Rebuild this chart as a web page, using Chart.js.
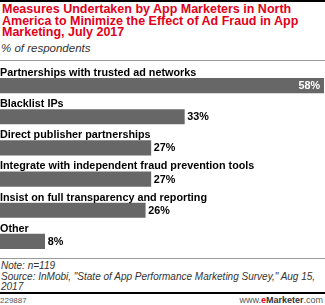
<!DOCTYPE html>
<html>
<head>
<meta charset="utf-8">
<script src="https://cdn.jsdelivr.net/npm/chart.js@4"></script>
<style>
  html, body { margin: 0; padding: 0; background: #fff; }
  body { width: 325px; height: 305px; position: relative; overflow: hidden; font-family: "Liberation Sans", Arial, sans-serif; }
  .topline { position: absolute; left: 0; top: 0; width: 325px; height: 2px; background: #000; }
  .titulo { position: absolute; left: 2px; top: 4px; width: 323px; color: #e2001a; font-weight: bold; font-size: 12.5px; line-height: 11.6px; }
  .sub { position: absolute; left: 1px; top: 42px; font-style: italic; font-size: 11.5px; color: #333; }
  .linha { position: absolute; left: 0; width: 325px; height: 1px; background: #999; }
  #wrap { position: absolute; left: 0; top: 62px; width: 325px; height: 196px; }
  .nota { position: absolute; left: 1px; top: 261px; width: 324px; font-style: italic; font-size: 10px; line-height: 10.6px; color: #333; }
  .base { position: absolute; left: 0; top: 292px; width: 325px; height: 2px; background: #000; }
  .id { position: absolute; left: 0; top: 296px; font-size: 8px; color: #555; }
  .site { position: absolute; right: 2px; top: 295px; font-size: 9px; color: #555; }
  .site b { color: #333; }
  .site .e { color: #e2001a; font-weight: bold; }
</style>
</head>
<body>
<div class="topline"></div>
<div class="titulo">Measures Undertaken by App Marketers in North America to Minimize the Effect of Ad Fraud in App Marketing, July 2017</div>
<div class="sub">% of respondents</div>
<div class="linha" style="top:60px"></div>
<div id="wrap"><canvas id="grafico"></canvas></div>
<div class="linha" style="top:258px"></div>
<div class="nota">Note: n=119<br>Source: InMobi, "State of App Performance Marketing Survey," Aug 15, 2017</div>
<div class="base"></div>
<div class="id">229887</div>
<div class="site">www.<span class="e">e</span><b>Marketer</b>.com</div>

<script>
// dados
const categorias = [
  'Partnerships with trusted ad networks',
  'Blacklist IPs',
  'Direct publisher partnerships',
  'Integrate with independent fraud prevention tools',
  'Insist on full transparency and reporting',
  'Other'
];
const valores = [58, 33, 27, 27, 26, 8];

const corBarra = '#676767';

// rótulos: categoria acima da barra, valor na ponta
const rotulos = {
  id: 'rotulos',
  afterDatasetsDraw(chart) {
    const ctx = chart.ctx;
    const meta = chart.getDatasetMeta(0);
    ctx.save();
    ctx.font = 'bold 10.8px "Liberation Sans", Arial, sans-serif';
    meta.data.forEach((bar, i) => {
      const topo = bar.y - bar.height / 2;
      ctx.fillStyle = '#000';
      ctx.textAlign = 'left';
      ctx.textBaseline = 'alphabetic';
      ctx.fillText(categorias[i], 0, topo - 2.5);

      ctx.textBaseline = 'middle';
      const txt = valores[i] + '%';
      if (i === 0) {
        ctx.fillStyle = '#fff';
        ctx.textAlign = 'right';
        ctx.fillText(txt, bar.x - 4, bar.y + 0.5);
      } else {
        ctx.fillStyle = '#000';
        ctx.textAlign = 'left';
        ctx.fillText(txt, bar.x + 3, bar.y + 0.5);
      }
    });
    ctx.restore();
  }
};

new Chart(document.getElementById('grafico').getContext('2d'), {
  type: 'bar',
  data: {
    labels: categorias,
    datasets: [{
      data: valores,
      backgroundColor: corBarra,
      barThickness: 14.5,
      borderWidth: 0
    }]
  },
  options: {
    indexAxis: 'y',
    responsive: true,
    maintainAspectRatio: false,
    animation: false,
    layout: { padding: { top: 8, bottom: 1, left: 0, right: 1 } },
    plugins: {
      legend: { display: false },
      tooltip: { enabled: false }
    },
    scales: {
      x: { display: false, min: 0, max: 58 },
      y: { display: false }
    }
  },
  plugins: [rotulos]
});
</script>
</body>
</html>
